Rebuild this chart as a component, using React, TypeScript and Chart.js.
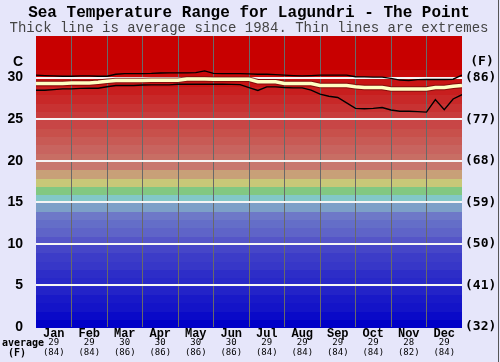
import React, { useEffect, useRef } from "react";
import { Chart, registerables } from "chart.js";
Chart.register(...registerables);

const months = ["Jan", "Feb", "Mar", "Apr", "May", "Jun", "Jul", "Aug", "Sep", "Oct", "Nov", "Dec"];
const avgC = ["29", "29", "30", "30", "30", "30", "29", "29", "29", "29", "28", "29"];
const avgF = ["(84)", "(84)", "(86)", "(86)", "(86)", "(86)", "(84)", "(84)", "(84)", "(84)", "(82)", "(84)"];
const cTicks = [0, 5, 10, 15, 20, 25, 30];
const fTicks = ["(32)", "(41)", "(50)", "(59)", "(68)", "(77)", "(86)"];

// sample positions: quarter-month steps through the year (0..12 months)
const xMonths = Array.from({ length: 49 }, (_, k) => k / 4);

const maxT = [
  30.3, 30.24, 30.2, 30.16, 30.16, 30.2, 30.2, 30.16, 30.16, 30.4, 30.48, 30.48,
  30.48, 30.5, 30.55, 30.57, 30.57, 30.57, 30.6, 30.8, 30.5, 30.48, 30.48, 30.48,
  30.45, 30.4, 30.4, 30.36, 30.3, 30.24, 30.2, 30.24, 30.3, 30.3, 30.3, 30.3,
  30.1, 30.08, 30.05, 30.05, 29.9, 29.7, 29.65, 29.75, 29.76, 29.78, 29.76, 29.8,
  30.3,
];
const avgT = [
  29.28, 29.28, 29.28, 29.28, 29.36, 29.36, 29.36, 29.43, 29.55, 29.64, 29.64, 29.64,
  29.64, 29.67, 29.67, 29.67, 29.67, 29.84, 29.84, 29.84, 29.8, 29.8, 29.8, 29.8,
  29.8, 29.5, 29.5, 29.5, 29.28, 29.28, 29.28, 29.28, 29.04, 29.04, 29.04, 29.04,
  28.9, 28.8, 28.8, 28.8, 28.64, 28.64, 28.64, 28.64, 28.64, 28.8, 28.8, 28.95,
  29.04,
];
const minT = [
  28.47, 28.47, 28.55, 28.64, 28.64, 28.7, 28.71, 28.71, 28.9, 29.04, 29.04, 29.04,
  29.1, 29.12, 29.12, 29.12, 29.19, 29.19, 29.19, 29.2, 29.2, 29.19, 29.18, 29.15,
  28.8, 28.45, 28.88, 28.88, 28.8, 28.76, 28.76, 28.5, 28.0, 27.75, 27.6, 26.95,
  26.3, 26.25, 26.3, 26.4, 26.1, 25.95, 25.95, 25.9, 25.85, 27.35, 26.14, 27.43,
  27.95,
];

const bandColors: number[][] = [
  [0, 0, 200], [10, 10, 200], [20, 20, 200], [25, 25, 200], [35, 35, 200],
  [40, 40, 200], [45, 45, 200], [55, 55, 200], [60, 60, 200], [70, 70, 200],
  [85, 85, 200], [95, 100, 200], [100, 110, 200], [110, 120, 200], [125, 160, 200],
  [130, 200, 200], [130, 200, 130], [200, 200, 120], [200, 160, 120], [200, 120, 110],
  [200, 110, 100], [200, 100, 95], [200, 90, 85], [200, 80, 75], [200, 70, 70],
  [200, 60, 60], [200, 50, 50], [200, 40, 40], [200, 30, 30], [200, 20, 20],
  [200, 10, 10], [200, 0, 0], [200, 0, 0], [200, 0, 0], [200, 0, 0],
];

const decor = {
  id: "decor",
  beforeDraw(chart: any) {
    const { ctx, chartArea: a, scales } = chart;
    const y = scales.y;
    ctx.save();
    ctx.fillStyle = "#e6e6fa";
    ctx.fillRect(0, 0, chart.width, chart.height);
    for (let t = 0; t < 35; t++) {
      const c = bandColors[t];
      const top = y.getPixelForValue(t + 1);
      const bot = y.getPixelForValue(t);
      ctx.fillStyle = `rgb(${c[0]},${c[1]},${c[2]})`;
      ctx.fillRect(a.left, Math.floor(top), a.right - a.left, Math.ceil(bot - top) + 1);
    }
    ctx.restore();
  },
  afterDraw(chart: any) {
    const { ctx, scales } = chart;
    const x = scales.x;
    ctx.save();
    ctx.textBaseline = "middle";
    ctx.textAlign = "center";
    ctx.fillStyle = "#000";
    ctx.font = "bold 16px 'Liberation Mono'";
    ctx.fillText("Sea Temperature Range for Lagundri - The Point", 249, 13);
    ctx.fillStyle = "#444";
    ctx.font = "14px 'Liberation Mono'";
    ctx.fillText("Thick line is average since 1984. Thin lines are extremes", 249, 28);
    ctx.fillStyle = "#000";
    ctx.textAlign = "right";
    ctx.font = "bold 14px 'Liberation Sans'";
    ctx.fillText("C", 23, 62);
    ctx.textAlign = "center";
    ctx.font = "bold 13px 'DejaVu Sans Mono'";
    ctx.fillText("(F)", 482, 62);
    for (let i = 0; i < 12; i++) {
      const cx = x.getPixelForValue(i + 0.5);
      ctx.font = "bold 12px 'Liberation Mono'";
      ctx.fillText(months[i], cx, 334);
      ctx.font = "9px 'DejaVu Sans Mono'";
      ctx.fillText(avgC[i], cx, 343);
      ctx.fillText(avgF[i], cx, 353);
    }
    ctx.font = "bold 10px 'DejaVu Sans Mono'";
    ctx.textAlign = "left";
    ctx.fillText("average", 2, 343);
    ctx.textAlign = "center";
    ctx.fillText("(F)", 17, 353);
    ctx.strokeStyle = "#555";
    ctx.lineWidth = 1;
    ctx.beginPath();
    ctx.moveTo(498.5, 0);
    ctx.lineTo(498.5, 362);
    ctx.stroke();
    ctx.restore();
  },
};

export default function App() {
  const ref = useRef<HTMLCanvasElement>(null);
  useEffect(() => {
    if (!ref.current) return;
    const mk = (arr: number[]) => xMonths.map((m, i) => ({ x: m, y: arr[i] }));
    const chart = new Chart(ref.current, {
      type: "line",
      data: {
        datasets: [
          { data: mk(avgT), borderColor: "rgb(255,255,195)", borderWidth: 3.5, pointRadius: 0, tension: 0, order: 0 },
          { data: mk(avgT), borderColor: "rgba(110,10,10,0.75)", borderWidth: 5.5, pointRadius: 0, tension: 0, order: 1 },
          { data: mk(maxT), borderColor: "#000", borderWidth: 1.4, pointRadius: 0, tension: 0, order: 2 },
          { data: mk(minT), borderColor: "#000", borderWidth: 1.4, pointRadius: 0, tension: 0, order: 3 },
        ],
      },
      options: {
        animation: false,
        responsive: false,
        devicePixelRatio: 1,
        layout: { padding: { top: 36, bottom: 35, left: 0, right: 0 } },
        plugins: { legend: { display: false }, tooltip: { enabled: false }, title: { display: false } },
        scales: {
          x: {
            type: "linear",
            min: 0,
            max: 12,
            ticks: { display: false, stepSize: 1 },
            border: { display: false },
            grid: {
              drawTicks: false,
              lineWidth: 1,
              color: (c: any) => (c.tick && (c.tick.value === 0 || c.tick.value === 12) ? "rgba(0,0,0,0)" : "rgb(105,105,105)"),
            },
            afterFit: (s: any) => { s.height = 0; },
          },
          y: {
            type: "linear",
            position: "left",
            min: 0,
            max: 35,
            afterBuildTicks: (s: any) => { s.ticks = cTicks.map((v) => ({ value: v })); },
            ticks: { color: "#000", padding: 13, font: { family: "Liberation Sans", size: 14, weight: "bold" } },
            border: { display: false },
            grid: {
              drawTicks: false,
              lineWidth: 2,
              color: (c: any) => (c.tick && c.tick.value === 0 ? "rgba(0,0,0,0)" : "rgb(245,245,245)"),
            },
            afterFit: (s: any) => { s.width = 36; },
          },
          y2: {
            type: "linear",
            position: "right",
            min: 0,
            max: 35,
            afterBuildTicks: (s: any) => { s.ticks = cTicks.map((v) => ({ value: v })); },
            ticks: {
              color: "#000",
              padding: 3,
              font: { family: "DejaVu Sans Mono", size: 13, weight: "bold" },
              callback: (_v: any, i: number) => fTicks[i],
            },
            border: { display: false },
            grid: { display: false, drawTicks: false },
            afterFit: (s: any) => { s.width = 38; },
          },
        },
      } as any,
      plugins: [decor],
    });
    return () => chart.destroy();
  }, []);
  return (
    <div style={{ position: "fixed", left: 0, top: 0, width: 500, height: 362 }}>
      <canvas ref={ref} width={500} height={362} style={{ width: 500, height: 362, display: "block" }} />
    </div>
  );
}
